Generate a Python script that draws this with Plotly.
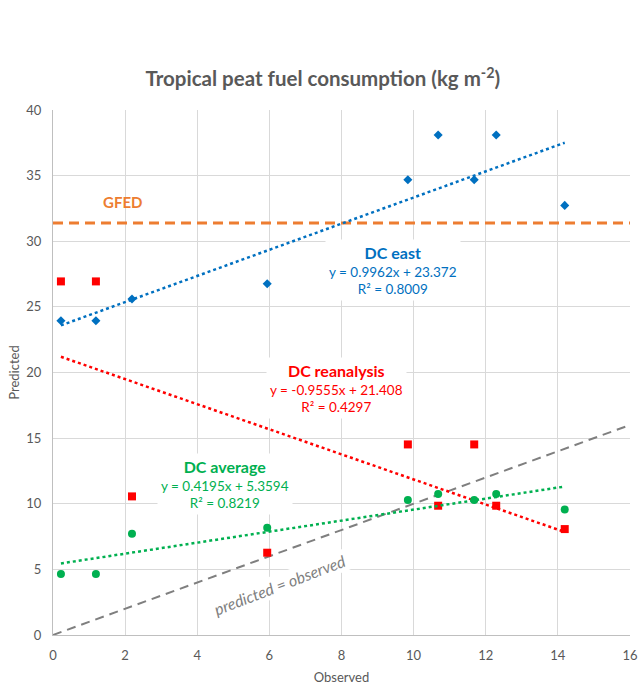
import plotly.graph_objects as go

# Observed fuel consumption at each site (kg m-2)
observed = [0.22, 1.19, 2.19, 5.94, 9.84, 10.68, 11.68, 12.29, 14.19]

# Predicted fuel consumption for each drought-code variant
dc_east = [23.94, 23.94, 25.6, 26.76, 34.68, 38.1, 34.68, 38.1, 32.73]
dc_reanalysis = [26.94, 26.94, 10.56, 6.27, 14.52, 9.85, 14.52, 9.85, 8.07]
dc_average = [4.65, 4.65, 7.72, 8.17, 10.28, 10.74, 10.28, 10.74, 9.57]

# Linear fits (slope, intercept, R²)
fit_east = (0.9962, 23.372, 0.8009)
fit_reanalysis = (-0.9555, 21.408, 0.4297)
fit_average = (0.4195, 5.3594, 0.8219)

# GFED constant estimate
gfed_value = 31.4

x_ticks = [0, 2, 4, 6, 8, 10, 12, 14, 16]
y_ticks = [0, 5, 10, 15, 20, 25, 30, 35, 40]

BLUE = "#0070C0"
RED = "#FF0000"
GREEN = "#00B050"
ORANGE = "#ED7D31"
GREY = "#7F7F7F"
TEXT = "#595959"
FONT = "Lato"

fig = go.Figure()

# 1:1 reference line
fig.add_trace(go.Scatter(x=[x_ticks[0], x_ticks[-1]], y=[x_ticks[0], x_ticks[-1]],
                         mode="lines", line=dict(color=GREY, width=2, dash="9px,6px"),
                         hoverinfo="skip", showlegend=False))

# GFED horizontal line
fig.add_trace(go.Scatter(x=[x_ticks[0], x_ticks[-1]], y=[gfed_value, gfed_value],
                         mode="lines", line=dict(color=ORANGE, width=3, dash="10px,6px"),
                         hoverinfo="skip", showlegend=False))


def add_series(values, fit, color, symbol, size):
    slope, intercept, _ = fit
    x0, x1 = min(observed), max(observed)
    fig.add_trace(go.Scatter(x=[x0, x1], y=[slope * x0 + intercept, slope * x1 + intercept],
                             mode="lines", line=dict(color=color, width=2.5, dash="dot"),
                             hoverinfo="skip", showlegend=False))
    fig.add_trace(go.Scatter(x=observed, y=values, mode="markers",
                             marker=dict(color=color, symbol=symbol, size=size),
                             showlegend=False))


add_series(dc_east, fit_east, BLUE, "diamond", 7)
add_series(dc_reanalysis, fit_reanalysis, RED, "square", 8)
add_series(dc_average, fit_average, GREEN, "circle", 8)


def fit_label(name, fit, color, x, y):
    slope, intercept, r2 = fit
    sign = "+" if intercept >= 0 else "-"
    text = (f"<b><span style='font-size:16px'>{name}</span></b><br>"
            f"y = {slope:.4f}x {sign} {abs(intercept):g}<br>"
            f"R² = {r2:.4f}")
    fig.add_annotation(x=x, y=y, xref="x", yref="y", text=text, showarrow=False,
                       font=dict(family=FONT, size=13.5, color=color),
                       bgcolor="white", borderpad=3, align="center")


fit_label("DC east", fit_east, BLUE, 9.44, 27.8)
fit_label("DC reanalysis", fit_reanalysis, RED, 7.85, 18.8)
fit_label("DC average", fit_average, GREEN, 4.77, 11.5)

fig.add_annotation(x=1.94, y=33.0, xref="x", yref="y", text="<b>GFED</b>",
                   showarrow=False, font=dict(family=FONT, size=15, color=ORANGE))

fig.add_annotation(x=6.3, y=3.85, xref="x", yref="y", text="<i>predicted = observed</i>",
                   showarrow=False, textangle=-21, bgcolor="white", borderpad=1,
                   font=dict(family=FONT, size=16, color=GREY))

fig.update_layout(
    width=638, height=685,
    margin=dict(l=53, r=8, t=110, b=50),
    paper_bgcolor="white", plot_bgcolor="white",
    font=dict(family=FONT, color=TEXT, size=13),
    title=dict(text="<b>Tropical peat fuel consumption (kg m<sup>-2</sup>)</b>",
               x=0.506, xref="container", xanchor="center", y=1 - 79 / 685, yanchor="middle",
               font=dict(family=FONT, size=20.5, color=TEXT)),
)

fig.update_xaxes(range=[x_ticks[0], x_ticks[-1]], tickvals=x_ticks, automargin=False,
                 showgrid=True, gridcolor="#D9D9D9", gridwidth=1,
                 showline=True, linecolor="#BFBFBF", linewidth=1,
                 zeroline=False, ticks="", ticklabelstandoff=8,
                 title=dict(text="Observed", font=dict(size=13, color=TEXT), standoff=12),
                 tickfont=dict(size=13, color=TEXT))
fig.update_yaxes(range=[y_ticks[0], y_ticks[-1]], tickvals=y_ticks, automargin=False,
                 showgrid=True, gridcolor="#D9D9D9", gridwidth=1,
                 showline=True, linecolor="#BFBFBF", linewidth=1,
                 zeroline=False, ticks="", ticklabelstandoff=8,
                 title=dict(text="Predicted", font=dict(size=13, color=TEXT), standoff=3),
                 tickfont=dict(size=13, color=TEXT))

fig.write_html("out.html")
